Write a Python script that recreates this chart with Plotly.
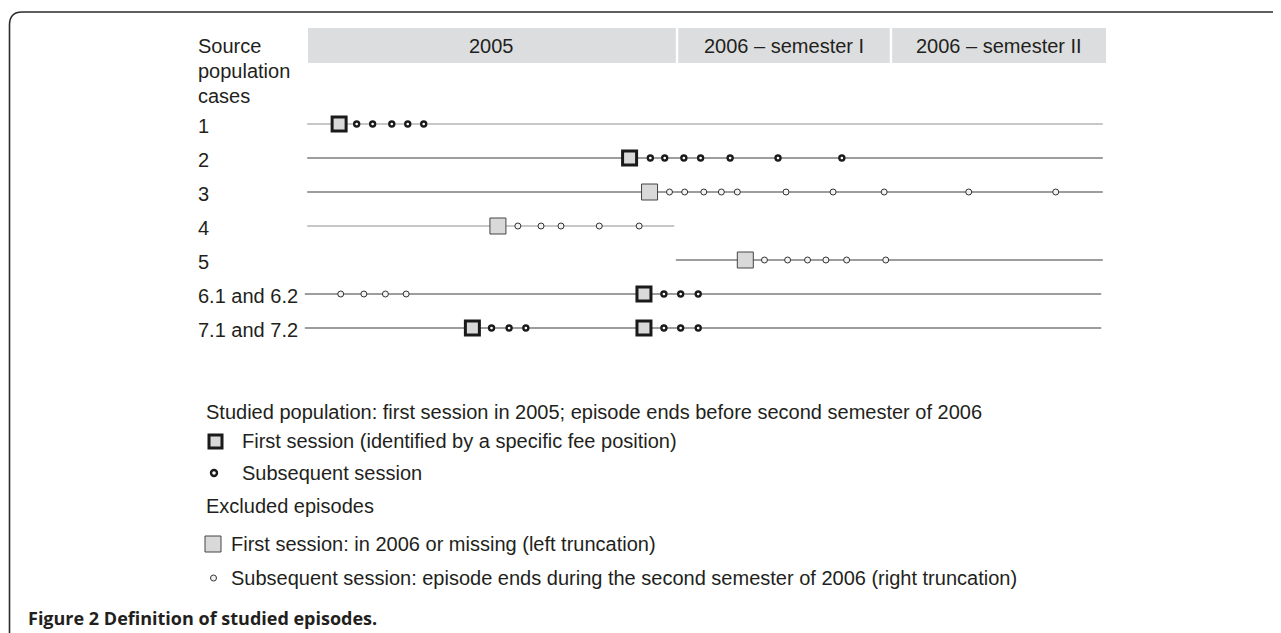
import plotly.graph_objects as go

W, H = 1281, 633
OFF = 8                      # the page body margin in the browser
FW, FH = W - OFF, H - OFF    # figure size that fits the window

# ---------------- data (timeline position, 0 = start of 2005, 100 = end of 2006) -------------
periods = ["2005", "2006 \u2013 semester I", "2006 \u2013 semester II"]
period_start = [0.0, 46.4, 73.2]
period_end = [46.1, 72.9, 100.0]

row_labels = ["1", "2", "3", "4", "5", "6.1 and 6.2", "7.1 and 7.2"]
row_index = [1, 2, 3, 4, 5, 6, 7]
line_start = [-0.1, -0.1, -0.1, -0.1, 46.1, -0.4, -0.4]
line_end = [99.6, 99.6, 99.6, 45.9, 99.6, 99.4, 99.4]

# first session, studied (bold square)
first_studied = [[3.9], [40.3], [], [], [], [42.1], [20.6, 42.1]]
# subsequent session, studied (bold circle)
subseq_studied = [
    [6.1, 8.1, 10.5, 12.5, 14.5],
    [42.9, 44.7, 47.1, 49.2, 52.9, 58.9, 66.9],
    [],
    [],
    [],
    [44.6, 46.7, 48.9],
    [23.0, 25.2, 27.3, 44.6, 46.7, 48.9],
]
# first session, excluded (light square)
first_excluded = [[], [], [42.8], [23.8], [54.8], [], []]
# subsequent session, excluded (thin circle)
subseq_excluded = [
    [],
    [],
    [45.3, 47.2, 49.6, 51.8, 53.8, 59.9, 65.8, 72.2, 82.8, 93.7],
    [26.3, 29.2, 31.7, 36.5, 41.5],
    [57.2, 60.1, 62.6, 64.9, 67.5, 72.4],
    [4.1, 7.0, 9.7, 12.3],
    [],
]

header_lines = ["Source", "population", "cases"]
legend_title_1 = "Studied population: first session in 2005; episode ends before second semester of 2006"
legend_item_1 = "First session (identified by a specific fee position)"
legend_item_2 = "Subsequent session"
legend_title_2 = "Excluded episodes"
legend_item_3 = "First session: in 2006 or missing (left truncation)"
legend_item_4 = "Subsequent session: episode ends during the second semester of 2006 (right truncation)"
caption_bold = "Figure 2 Definition of studied episodes."

# ---------------- layout helpers (window pixels) ----------------
X0_PX, SCALE = 308.0, 7.98      # window pixel of position 0, pixels per unit
ROW0_PX, ROW_STEP = 124.0, 34.0  # window pixel of row 1, pixels per row

def px(x):
    return (x - OFF) / FW

def py(y):
    return 1 - (y - OFF) / FH

TEXT = "#231f20"
FONT = "Liberation Sans"
FS = 20
HEADER_FILL = "#dcdddf"
SQ_FILL = "#d9d9d9"

fig = go.Figure()

# row lines
for i, r in enumerate(row_index):
    col = "#b5b5b5" if r in (1, 4) else "#7d7d7d"
    fig.add_trace(go.Scatter(x=[line_start[i], line_end[i]], y=[r, r], mode="lines",
                             line=dict(color=col, width=1.3), hoverinfo="skip", showlegend=False))

def flat(groups):
    xs, ys = [], []
    for i, g in enumerate(groups):
        xs += g
        ys += [row_index[i]] * len(g)
    return xs, ys

xs, ys = flat(subseq_excluded)
fig.add_trace(go.Scatter(x=xs, y=ys, mode="markers", showlegend=False,
                         marker=dict(symbol="circle", size=6, color="#f2f2f2",
                                     line=dict(color="#333333", width=1))))
xs, ys = flat(subseq_studied)
fig.add_trace(go.Scatter(x=xs, y=ys, mode="markers", showlegend=False,
                         marker=dict(symbol="circle", size=5, color="#ffffff",
                                     line=dict(color="#1a1a1a", width=2.4))))
xs, ys = flat(first_excluded)
fig.add_trace(go.Scatter(x=xs, y=ys, mode="markers", showlegend=False,
                         marker=dict(symbol="square", size=16, color=SQ_FILL,
                                     line=dict(color="#444444", width=1))))
xs, ys = flat(first_studied)
fig.add_trace(go.Scatter(x=xs, y=ys, mode="markers", showlegend=False,
                         marker=dict(symbol="square", size=14, color=SQ_FILL,
                                     line=dict(color="#1a1a1a", width=3))))

shapes = []
ann = []

# header bars
for name, s, e in zip(periods, period_start, period_end):
    shapes.append(dict(type="rect", xref="x", yref="paper", x0=s, x1=e,
                       y0=py(63), y1=py(28), fillcolor=HEADER_FILL, line=dict(width=0), layer="below"))
    ann.append(dict(x=(s + e) / 2, y=py(46), xref="x", yref="paper", text=name, showarrow=False,
                    xanchor="center", yanchor="middle", font=dict(family=FONT, size=FS, color=TEXT)))

# left header text
for t, yy in zip(header_lines, [46, 71, 96]):
    ann.append(dict(x=px(196), y=py(yy), xref="paper", yref="paper", text=t, showarrow=False,
                    xanchor="left", yanchor="middle", font=dict(family=FONT, size=FS, color=TEXT)))
for lab, r in zip(row_labels, row_index):
    ann.append(dict(x=px(196), y=r + 0.06, xref="paper", yref="y", text=lab, showarrow=False,
                    xanchor="left", yanchor="middle", font=dict(family=FONT, size=FS, color=TEXT)))

# legend block
def txt(t, x, y, size=FS, family=FONT, bold=False):
    ann.append(dict(x=px(x), y=py(y), xref="paper", yref="paper",
                    text=f"<b>{t}</b>" if bold else t, showarrow=False,
                    xanchor="left", yanchor="middle", font=dict(family=family, size=size, color=TEXT)))

txt(legend_title_1, 204, 412)
shapes.append(dict(type="rect", xref="paper", yref="paper", x0=px(209), x1=px(222), y0=py(448), y1=py(435),
                   fillcolor=SQ_FILL, line=dict(color="#1a1a1a", width=3)))
txt(legend_item_1, 240, 441)
shapes.append(dict(type="circle", xref="paper", yref="paper", x0=px(211), x1=px(217), y0=py(476), y1=py(470),
                   fillcolor="#ffffff", line=dict(color="#1a1a1a", width=2.4)))
txt(legend_item_2, 240, 473)
txt(legend_title_2, 204, 506)
shapes.append(dict(type="rect", xref="paper", yref="paper", x0=px(205), x1=px(221), y0=py(552), y1=py(536),
                   fillcolor=SQ_FILL, line=dict(color="#444444", width=1)))
txt(legend_item_3, 229, 544)
shapes.append(dict(type="circle", xref="paper", yref="paper", x0=px(210.5), x1=px(216.5), y0=py(581), y1=py(575),
                   fillcolor="#f2f2f2", line=dict(color="#333333", width=1)))
txt(legend_item_4, 229, 578)

# caption
txt(caption_bold, 26, 618, size=18, family="Open Sans", bold=True)

# frame (rounded top-left corner)
frame = (f"M {px(W)},{py(12)} L {px(22)},{py(12)} Q {px(9.5)},{py(12)} {px(9.5)},{py(25)} "
         f"L {px(9.5)},{py(H)}")
shapes.append(dict(type="path", xref="paper", yref="paper", path=frame,
                   line=dict(color="#2b2b2b", width=1.6)))

x_lo = -(X0_PX - OFF) / SCALE
x_hi = x_lo + FW / SCALE
y_top = 1 - (ROW0_PX - OFF) / ROW_STEP
y_bot = y_top + FH / ROW_STEP

fig.update_layout(
    width=FW, height=FH, margin=dict(l=0, r=0, t=0, b=0, pad=0),
    paper_bgcolor="white", plot_bgcolor="white",
    xaxis=dict(range=[x_lo, x_hi], visible=False, fixedrange=True),
    yaxis=dict(range=[y_bot, y_top], visible=False, fixedrange=True),
    shapes=shapes, annotations=ann, showlegend=False,
)

fig.write_html("out.html")
